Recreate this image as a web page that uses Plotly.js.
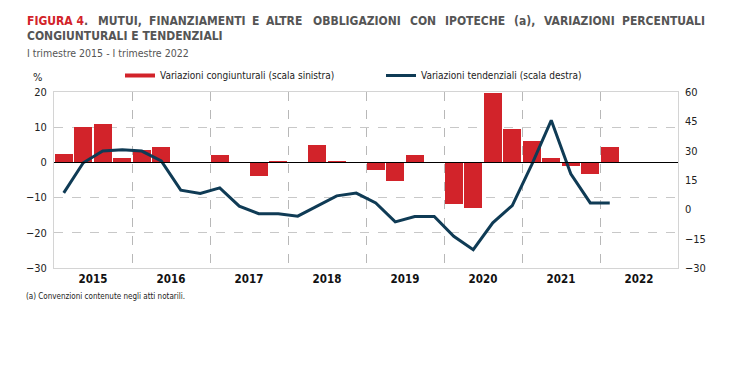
<!DOCTYPE html>
<html>
<head>
<meta charset="utf-8">
<script src="https://cdn.plot.ly/plotly-3.0.1.min.js"></script>
<style>html,body{margin:0;padding:0;background:#fff;}#chart{width:740px;height:374px;}</style>
</head>
<body>
<div id="chart"></div>
<script>
// ---- data ----
const quarters = ["2015 T1","2015 T2","2015 T3","2015 T4","2016 T1","2016 T2","2016 T3","2016 T4",
  "2017 T1","2017 T2","2017 T3","2017 T4","2018 T1","2018 T2","2018 T3","2018 T4",
  "2019 T1","2019 T2","2019 T3","2019 T4","2020 T1","2020 T2","2020 T3","2020 T4",
  "2021 T1","2021 T2","2021 T3","2021 T4","2022 T1"];
const congiunturali = [2.4,10.0,10.9,1.2, 3.5,4.3,0.1,0.1, 2.0,0.1,-4.0,0.5, 0.1,5.0,0.5,0.1,
  -2.2,-5.2,2.0,0.1, -11.7,-12.9,19.8,9.6, 6.2,1.2,-1.0,-3.3, 4.3];
const tendenziali = [8.4,23.8,29.8,30.5, 29.8,24.8,9.8,8.1, 11.0,1.6,-2.2,-2.2, -3.5,1.9,6.9,8.3,
  3.3,-6.4,-3.7,-3.7, -13.8,-20.6,-6.9,1.9, 22.9,45.5,18.2,3.3, 3.3];
const yearLabels = ["2015","2016","2017","2018","2019","2020","2021","2022"];
const leftTicks = [-30,-20,-10,0,10,20];
const rightTicks = [-30,-15,0,15,30,45,60];
const seriesNames = ["Variazioni congiunturali (scala sinistra)","Variazioni tendenziali (scala destra)"];

// ---- layout helpers ----
const FONT = "'Liberation Sans Narrow','Arial Narrow','DejaVu Sans Condensed',Arial,sans-serif";
const RED = "#d2232a", NAVY = "#0f3b55", GRAY = "#555555";
const xs = quarters.map((q, i) => i + 0.5);
const yearPos = yearLabels.map((y, i) => i * 4 + 2);
const L = 54, R = 678, T = 92, B = 268;
const px = v => (v - L) / (R - L);
const py = v => 1 + (T - v) / (B - T);

const titleWords = [
  ["FIGURA 4", 24.5, RED], [".", 82, GRAY], ["MUTUI,", 96, GRAY], ["FINANZIAMENTI", 147, GRAY],
  ["E", 250, GRAY], ["ALTRE", 264, GRAY], ["OBBLIGAZIONI", 311, GRAY], ["CON", 408, GRAY],
  ["IPOTECHE", 443, GRAY], ["(a),", 512, GRAY], ["VARIAZIONI", 541.5, GRAY], ["PERCENTUALI", 620, GRAY]
];
const annotations = titleWords.map(w => ({
  text: w[0], x: px(w[1]), y: py(21), xref: "paper", yref: "paper", xanchor: "left", yanchor: "middle",
  showarrow: false, font: {family: FONT, size: 12, color: w[2], weight: "bold"}
}));
annotations.push({text: "CONGIUNTURALI E TENDENZIALI", x: px(24.5), y: py(36.5), xref: "paper", yref: "paper",
  xanchor: "left", yanchor: "middle", showarrow: false, font: {family: FONT, size: 12, color: GRAY, weight: "bold"}});
annotations.push({text: "I trimestre 2015 - I trimestre 2022", x: px(24.5), y: py(52.5), xref: "paper", yref: "paper",
  xanchor: "left", yanchor: "middle", showarrow: false, font: {family: FONT, size: 10.5, color: GRAY}});
annotations.push({text: "%", x: px(37), y: py(77), xref: "paper", yref: "paper",
  xanchor: "center", yanchor: "middle", showarrow: false, font: {family: FONT, size: 11, color: "#222"}});
annotations.push({text: "(a) Convenzioni contenute negli atti notarili.", x: px(24), y: py(296), xref: "paper", yref: "paper",
  xanchor: "left", yanchor: "middle", showarrow: false, font: {family: FONT, size: 8, color: "#222"}});

const traces = [
  {type: "bar", x: xs, y: congiunturali, name: seriesNames[0], hovertext: quarters, hoverinfo: "text+y",
   marker: {color: RED, line: {width: 0}}, width: 0.9, yaxis: "y", showlegend: false},
  {type: "scatter", mode: "lines", x: [null], y: [null], name: seriesNames[0],
   line: {color: RED, width: 4}, yaxis: "y", hoverinfo: "skip"},
  {type: "scatter", mode: "lines", x: xs, y: tendenziali, name: seriesNames[1], hovertext: quarters,
   line: {color: NAVY, width: 3}, yaxis: "y2"}
];

const layout = {
  width: 740, height: 374,
  margin: {l: L, r: 740 - R, t: T, b: 374 - B, pad: 0},
  paper_bgcolor: "#fff", plot_bgcolor: "#fff",
  font: {family: FONT, size: 11, color: "#222"},
  bargap: 0,
  showlegend: true,
  legend: {orientation: "h", x: px(120), xanchor: "left", y: py(75.5), yanchor: "middle",
    font: {family: FONT, size: 10, color: "#222"}, entrywidth: 216, entrywidthmode: "pixels",
    itemwidth: 30, bgcolor: "rgba(0,0,0,0)", traceorder: "normal"},
  xaxis: {range: [0, 32], tickvals: yearPos, ticktext: yearLabels, ticks: "", showgrid: false,
    tickfont: {family: FONT, size: 11.5, color: "#111", weight: "bold"},
    showline: true, mirror: true, linecolor: "#d4d4d4", linewidth: 1, zeroline: false,
    minor: {tick0: 0, dtick: 4, showgrid: true, gridcolor: "#b8b8b8", griddash: "dash", gridwidth: 1, ticks: ""}},
  yaxis: {range: [-30, 20], tickvals: leftTicks, ticks: "", showgrid: true, gridcolor: "#c8c8c8",
    griddash: "dash", gridwidth: 1, zeroline: true, zerolinecolor: "#000", zerolinewidth: 1.5,
    zerolinelayer: "above traces",
    showline: true, mirror: true, linecolor: "#d4d4d4", linewidth: 1,
    tickfont: {family: FONT, size: 11, color: "#222"}, ticklabelstandoff: 4},
  yaxis2: {range: [-30, 60], tickvals: rightTicks, overlaying: "y", side: "right", showgrid: false,
    zeroline: false, ticks: "", tickfont: {family: FONT, size: 11, color: "#222"}, ticklabelstandoff: 6},
  annotations: annotations
};

Plotly.newPlot("chart", traces, layout, {displayModeBar: false, staticPlot: true});
</script>
</body>
</html>
